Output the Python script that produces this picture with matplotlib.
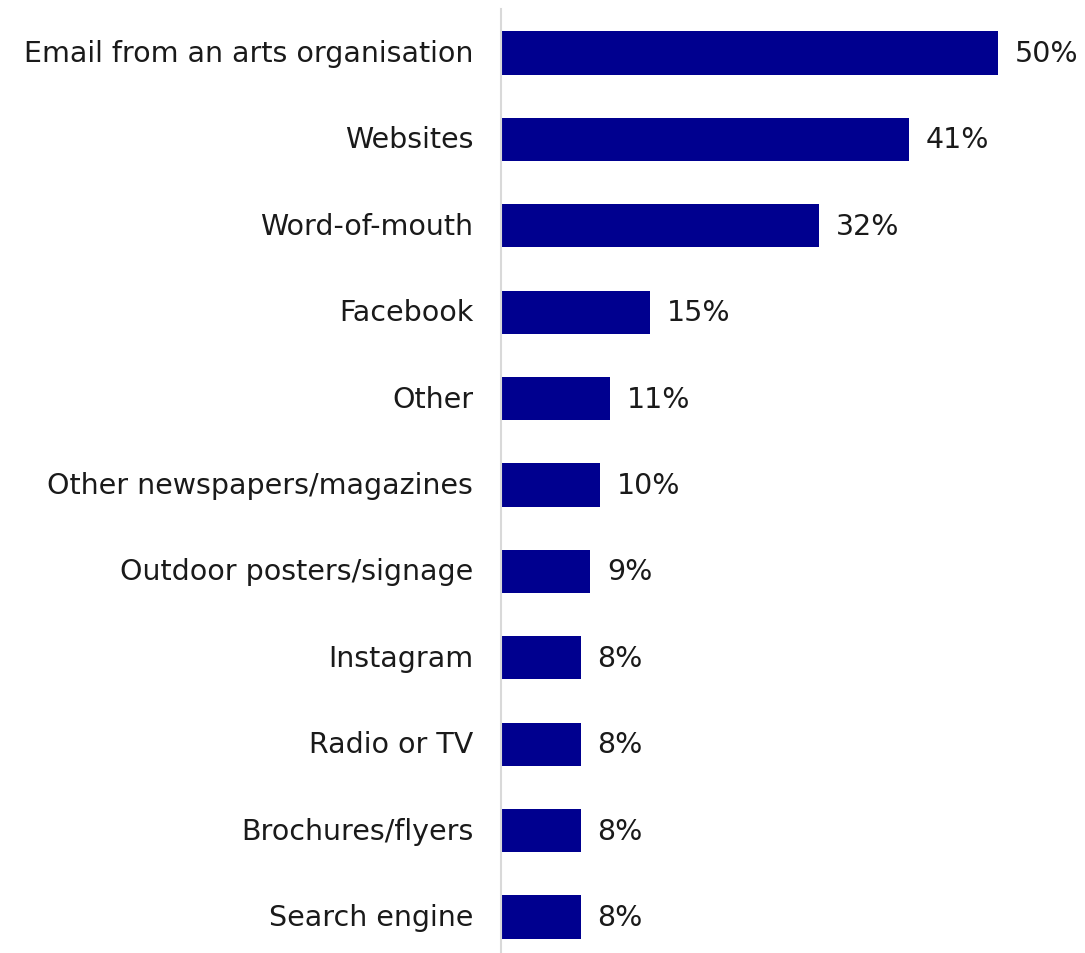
import matplotlib
matplotlib.use("Agg")
import matplotlib.pyplot as plt

categories = [
    "Email from an arts organisation",
    "Websites",
    "Word-of-mouth",
    "Facebook",
    "Other",
    "Other newspapers/magazines",
    "Outdoor posters/signage",
    "Instagram",
    "Radio or TV",
    "Brochures/flyers",
    "Search engine",
]
values = [50, 41, 32, 15, 11, 10, 9, 8, 8, 8, 8]

bar_color = "#00008f"
text_color = "#1a1a1a"
font = ["DejaVu Sans"]

fig = plt.figure(figsize=(10.85, 9.54), dpi=100)
ax = fig.add_axes([501 / 1085, 0.0, 584 / 1085, 944 / 954])

y = list(range(len(categories)))
ax.barh(y, values, height=0.5, color=bar_color, zorder=2)

ax.set_xlim(0, 584 / 9.94)
ax.set_ylim(len(categories) - 1 + 0.417, -0.509)

for yi, v in zip(y, values):
    ax.annotate(f"{v}%", xy=(v, yi), xytext=(12, 0), textcoords="offset points",
                va="center", ha="left", fontsize=20.5, color=text_color, family=font)

ax.set_yticks(y)
ax.set_yticklabels(categories, fontsize=20.5, color=text_color, family=font,
                   va="center")
ax.tick_params(axis="y", length=0, pad=20)
ax.set_xticks([])

for side in ["top", "right", "bottom"]:
    ax.spines[side].set_visible(False)
ax.spines["left"].set_color("#d9d9d9")
ax.spines["left"].set_linewidth(1.5)

fig.savefig("out.png", dpi=100)
